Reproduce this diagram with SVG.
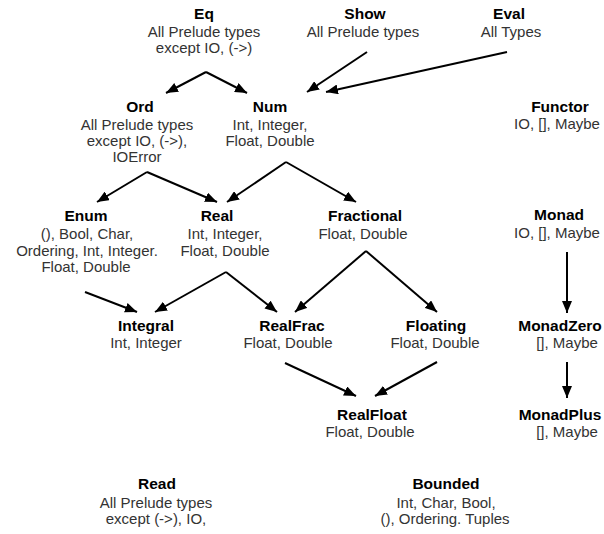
<svg xmlns="http://www.w3.org/2000/svg" width="604" height="534" viewBox="0 0 604 534">
<style>
.t{font-family:"Liberation Sans",Arial,sans-serif;font-size:15.5px;font-weight:bold;fill:#000;text-anchor:middle}
.b{font-family:"Liberation Sans",Arial,sans-serif;font-size:15px;fill:#333;text-anchor:middle}
.c{stroke:#000;stroke-width:2;fill:none;marker-end:url(#ah)}
</style>
<defs>
<marker id="ah" markerUnits="userSpaceOnUse" markerWidth="12" markerHeight="10" refX="12" refY="5" orient="auto">
<path d="M0,0 L12,5 L0,10 z" fill="#000"/>
</marker>
</defs>
<rect width="604" height="534" fill="#fff"/>
<g id="connectors">
<path class="c" d="M206,72 L166,93"/>
<path class="c" d="M206,72 L247,93"/>
<path class="c" d="M367,52 L307,92"/>
<path class="c" d="M507,52 L326,92"/>
<path class="c" d="M147,172 L97,202"/>
<path class="c" d="M147,172 L217,202"/>
<path class="c" d="M286,162 L227,202"/>
<path class="c" d="M286,162 L356,202"/>
<path class="c" d="M85,292 L137,312"/>
<path class="c" d="M226,272 L155,312"/>
<path class="c" d="M226,272 L277,312"/>
<path class="c" d="M366,251 L295,312"/>
<path class="c" d="M366,251 L437,312"/>
<path class="c" d="M285,363 L356,396"/>
<path class="c" d="M437,362 L375,396"/>
<path class="c" d="M567,252 L567,313"/>
<path class="c" d="M567,362 L567,398"/>
</g>
<g id="Eq"><text class="t" x="204" y="19">Eq</text><text class="b" x="204" y="37">All Prelude types</text><text class="b" x="204" y="53">except IO, (-&gt;)</text></g>
<g id="Show"><text class="t" x="365" y="19">Show</text><text class="b" x="363" y="37">All Prelude types</text></g>
<g id="Eval"><text class="t" x="509" y="19">Eval</text><text class="b" x="511" y="37">All Types</text></g>
<g id="Ord"><text class="t" x="140" y="112">Ord</text><text class="b" x="137" y="130">All Prelude types</text><text class="b" x="137" y="146">except IO, (-&gt;),</text><text class="b" x="137" y="162">IOError</text></g>
<g id="Num"><text class="t" x="270" y="112">Num</text><text class="b" x="270" y="130">Int, Integer,</text><text class="b" x="270" y="146">Float, Double</text></g>
<g id="Functor"><text class="t" x="560" y="112">Functor</text><text class="b" x="557" y="129">IO, [], Maybe</text></g>
<g id="Enum"><text class="t" x="86" y="221">Enum</text><text class="b" x="87" y="239">(), Bool, Char,</text><text class="b" x="87" y="256">Ordering, Int, Integer.</text><text class="b" x="86" y="272">Float, Double</text></g>
<g id="Real"><text class="t" x="217" y="221">Real</text><text class="b" x="225" y="239">Int, Integer,</text><text class="b" x="225" y="256">Float, Double</text></g>
<g id="Fractional"><text class="t" x="365" y="221">Fractional</text><text class="b" x="363" y="239">Float, Double</text></g>
<g id="Monad"><text class="t" x="559" y="220">Monad</text><text class="b" x="557" y="238">IO, [], Maybe</text></g>
<g id="Integral"><text class="t" x="146" y="331">Integral</text><text class="b" x="146" y="348">Int, Integer</text></g>
<g id="RealFrac"><text class="t" x="292" y="331">RealFrac</text><text class="b" x="288" y="348">Float, Double</text></g>
<g id="Floating"><text class="t" x="436" y="331">Floating</text><text class="b" x="435" y="348">Float, Double</text></g>
<g id="MonadZero"><text class="t" x="560" y="331">MonadZero</text><text class="b" x="567" y="348">[], Maybe</text></g>
<g id="RealFloat"><text class="t" x="372" y="420">RealFloat</text><text class="b" x="370" y="437">Float, Double</text></g>
<g id="MonadPlus"><text class="t" x="560" y="420">MonadPlus</text><text class="b" x="567" y="437">[], Maybe</text></g>
<g id="Read"><text class="t" x="157" y="489">Read</text><text class="b" x="156" y="508">All Prelude types</text><text class="b" x="156" y="524">except (-&gt;), IO,</text></g>
<g id="Bounded"><text class="t" x="446" y="489">Bounded</text><text class="b" x="446" y="508">Int, Char, Bool,</text><text class="b" x="445" y="524">(), Ordering. Tuples</text></g>
</svg>
